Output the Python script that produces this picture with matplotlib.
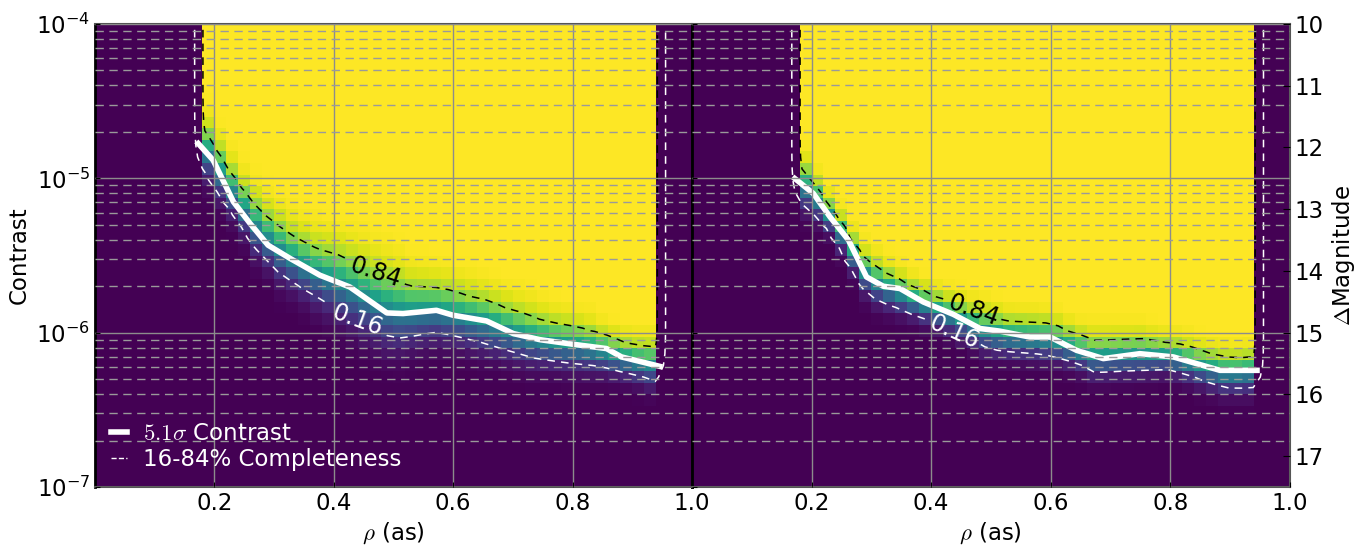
import math
import numpy as np
import matplotlib
matplotlib.use("Agg")
import matplotlib.pyplot as plt

plt.rcParams['mathtext.fontset'] = 'cm'
plt.rcParams['font.size'] = 16.5

# =========================
# data (x in arcsec, values are log10 contrast)
# =========================
# left panel
L_curve_x = [0.173, 0.198, 0.232, 0.260, 0.290, 0.327, 0.377, 0.427, 0.489, 0.516,
             0.572, 0.600, 0.656, 0.701, 0.745, 0.801, 0.857, 0.882, 0.946]
L_curve_y = [-4.774, -4.882, -5.152, -5.293, -5.433, -5.519, -5.628, -5.704, -5.872, -5.876,
             -5.855, -5.887, -5.924, -6.006, -6.045, -6.075, -6.103, -6.157, -6.218]

L_84_x = [0.187, 0.215, 0.243, 0.282, 0.327, 0.366, 0.416, 0.470, 0.528, 0.578,
          0.650, 0.695, 0.762, 0.824, 0.868, 0.902, 0.941]
L_84_y = [-4.677, -4.861, -5.033, -5.217, -5.357, -5.444, -5.509, -5.610, -5.699, -5.714,
          -5.790, -5.855, -5.941, -5.984, -6.049, -6.088, -6.103]

L_16_x = [0.170, 0.198, 0.232, 0.271, 0.310, 0.355, 0.388, 0.445, 0.500, 0.522,
          0.567, 0.600, 0.667, 0.723, 0.790, 0.846, 0.891, 0.938]
L_16_y = [-4.796, -5.023, -5.206, -5.444, -5.606, -5.725, -5.801, -5.930, -6.038, -6.028,
          -5.995, -6.017, -6.088, -6.157, -6.196, -6.222, -6.265, -6.320]

# right panel
R_curve_x = [0.172, 0.203, 0.231, 0.262, 0.292, 0.320, 0.348, 0.387, 0.437, 0.482,
             0.515, 0.565, 0.599, 0.643, 0.688, 0.749, 0.805, 0.883, 0.945]
R_curve_y = [-5.001, -5.098, -5.250, -5.401, -5.639, -5.699, -5.714, -5.801, -5.881, -5.973,
             -5.990, -6.028, -6.028, -6.114, -6.168, -6.136, -6.157, -6.244, -6.244]

R_84_x = [0.183, 0.208, 0.247, 0.286, 0.314, 0.365, 0.409, 0.470, 0.530, 0.599,
          0.643, 0.671, 0.749, 0.805, 0.849, 0.900, 0.939]
R_84_y = [-4.903, -5.033, -5.250, -5.498, -5.584, -5.693, -5.768, -5.860, -5.930, -5.946,
          -6.017, -6.054, -6.045, -6.071, -6.125, -6.174, -6.157]

R_16_x = [0.172, 0.186, 0.225, 0.258, 0.281, 0.298, 0.331, 0.370, 0.440, 0.498,
          0.528, 0.599, 0.638, 0.671, 0.716, 0.794, 0.849, 0.894, 0.939]
R_16_y = [-5.044, -5.152, -5.292, -5.487, -5.660, -5.757, -5.816, -5.876, -5.990, -6.103,
          -6.120, -6.147, -6.190, -6.255, -6.244, -6.233, -6.309, -6.363, -6.352]

sigma_label = 5.1
x_ticks = [0.2, 0.4, 0.6, 0.8, 1.0]
mag_ticks = [10, 11, 12, 13, 14, 15, 16, 17]

# =========================
# completeness map on a coarse grid
# =========================
x_edges = np.linspace(0, 1, 51)
y_edges = np.linspace(-7, -4, 41)
xc = 0.5 * (x_edges[1:] + x_edges[:-1])
yc = 0.5 * (y_edges[1:] + y_edges[:-1])
# contour grid sits slightly wider than the image cells (as in the original)
xc_cont = 1.0197 * xc - 0.0096
erf = np.vectorize(math.erf)


def completeness(x16, y16, x84, y84):
    comp = np.zeros((len(yc), len(xc)))
    for j, x in enumerate(xc):
        if x < 0.18 or x > 0.94:
            continue
        lo = np.interp(x, x16, y16)
        hi = np.interp(x, x84, y84)
        mu = 0.5 * (lo + hi)
        s = 0.5 * (hi - lo)
        comp[:, j] = 0.5 * (1 + erf((yc - mu) / (s * np.sqrt(2))))
    return comp


panels = [
    (L_curve_x, L_curve_y, L_16_x, L_16_y, L_84_x, L_84_y),
    (R_curve_x, R_curve_y, R_16_x, R_16_y, R_84_x, R_84_y),
]
lab84 = [(0.47, 10**-5.66), (0.47, 10**-5.87)]
lab16 = [(0.44, 10**-5.87), (0.44, 10**-5.99)]
rot84 = [-18, -20]
rot16 = [-20, -24]

# =========================
# plot
# =========================
fig = plt.figure(figsize=(13.68, 5.45), dpi=100)
ax1 = fig.add_axes([0.0694, 0.1064, 0.4364, 0.8495])
ax2 = fig.add_axes([0.5058, 0.1064, 0.4371, 0.8495], sharey=ax1)

for k, (ax, p) in enumerate(zip([ax1, ax2], panels)):
    cx, cy, x16, y16, x84, y84 = p
    comp = completeness(x16, y16, x84, y84)
    ax.pcolormesh(x_edges, 10**y_edges, comp, cmap='viridis', vmin=0, vmax=1)
    c16 = ax.contour(xc_cont, 10**yc, comp, levels=[0.16], colors='white',
                     linewidths=1.1, linestyles=[(0, (5, 4))])
    c84 = ax.contour(xc_cont, 10**yc, comp, levels=[0.84], colors='black',
                     linewidths=1.1, linestyles=[(0, (5, 4))])
    t84 = ax.clabel(c84, fmt='%.2f', fontsize=17, manual=[lab84[k]], inline_spacing=3)
    t16 = ax.clabel(c16, fmt='%.2f', fontsize=17, manual=[lab16[k]], inline_spacing=3)
    for t in t84:
        t.set_rotation(rot84[k])
    for t in t16:
        t.set_rotation(rot16[k])
    ax.plot(cx, 10**np.array(cy), color='white', lw=4,
            label=r'$%.1f\sigma$ Contrast' % sigma_label)
    ax.set_yscale('log')
    ax.set_xlim(0, 1)
    ax.set_ylim(1e-7, 1e-4)
    ax.set_xticks(x_ticks)
    ax.set_xlabel(r'$\rho$ (as)')
    ax.set_axisbelow(False)
    ax.grid(True, which='major', color='#8c8c8c', lw=1, ls='-')
    ax.grid(True, which='minor', axis='y', color='#9a9a9a', lw=1, ls=(0, (6, 4)))
    ax.tick_params(which='both', direction='in', labelsize=16.5)
    ax.tick_params(which='minor', length=0)
    for s in ['top', 'bottom', 'right']:
        ax.spines[s].set_color('#555555')
        ax.spines[s].set_linewidth(1.5)
    ax.spines['left'].set_color('black')
    ax.spines['left'].set_linewidth(2)

ax1.set_ylabel('Contrast')
ax2.tick_params(axis='y', labelleft=False)
ax1.spines['right'].set_color('black')
ax1.spines['right'].set_linewidth(2)

# legend
ax1.plot([], [], color='white', lw=1, ls='--', label='16-84% Completeness')
leg = ax1.legend(loc='lower left', frameon=False, handlelength=0.7, handletextpad=0.7,
                 fontsize=16.5, borderaxespad=0.3, labelspacing=0.15)
for t in leg.get_texts():
    t.set_color('white')

# magnitude axis
ax3 = ax2.twinx()
ax3.set_ylim(17.5, 10)
ax3.set_yticks(mag_ticks)
ax3.set_ylabel(r'$\Delta$Magnitude')
ax3.tick_params(direction='in', length=5, labelsize=16.5)
for s in ['top', 'bottom', 'right', 'left']:
    ax3.spines[s].set_visible(False)

fig.savefig('out.png', dpi=100)
